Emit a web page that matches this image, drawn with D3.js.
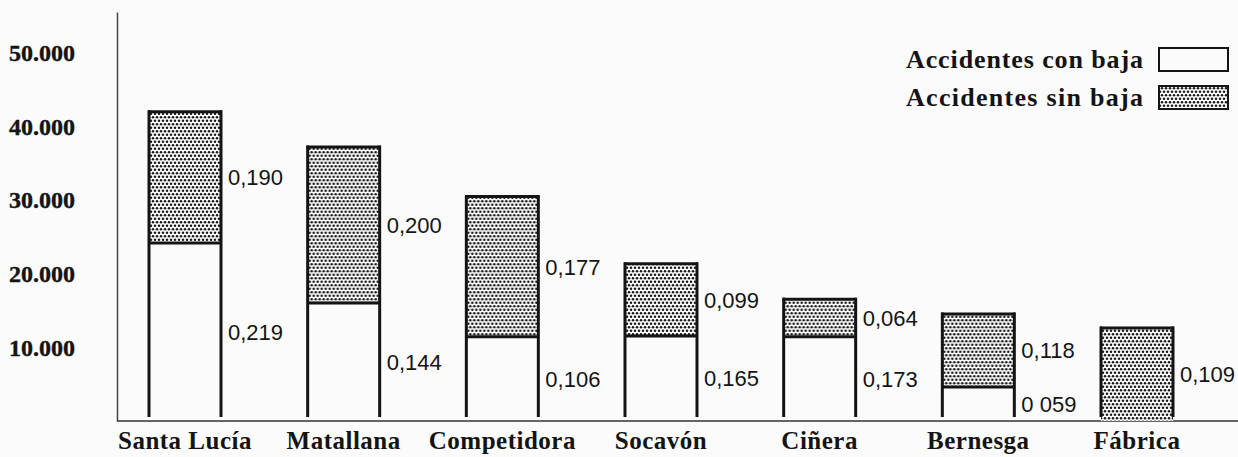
<!DOCTYPE html>
<html>
<head>
<meta charset="utf-8">
<script src="https://cdn.jsdelivr.net/npm/d3@7"></script>
<style>
  html, body { margin: 0; padding: 0; background: #fbfbfb; }
  svg { display: block; }
</style>
</head>
<body>
<svg id="chart"></svg>
<script>
// minas de León - accidentes con / sin baja
const categories = ["Santa Lucía", "Matallana", "Competidora", "Socavón", "Ciñera", "Bernesga", "Fábrica"];
const conBaja = [24100, 16000, 11400, 11500, 11400, 4600, 0];
const sinBaja = [17800, 21100, 19000, 9800, 5100, 9900, 12600];
const conBajaIdx = ["0,219", "0,144", "0,106", "0,165", "0,173", "0 059", ""];
const sinBajaIdx = ["0,190", "0,200", "0,177", "0,099", "0,064", "0,118", "0,109"];
const yTicks = [10000, 20000, 30000, 40000, 50000];
const yTickLabels = ["10.000", "20.000", "30.000", "40.000", "50.000"];
const legendLabels = ["Accidentes con baja", "Accidentes sin baja"];

const width = 1238, height = 457;
const ink = "#141414";
const serif = "'Liberation Serif', 'Times New Roman', serif";
const sans = "'Liberation Sans', Arial, sans-serif";

const svg = d3.select("#chart").attr("width", width).attr("height", height);

// stipple pattern for "sin baja"
const pat = svg.append("defs").append("pattern")
  .attr("id", "stipple")
  .attr("patternUnits", "userSpaceOnUse")
  .attr("width", 8).attr("height", 7);
pat.append("rect").attr("width", 8).attr("height", 7).attr("fill", "#fbfbfb");
[[2, 1.7], [6, 1.7], [0, 5.2], [4, 5.2], [8, 5.2]].forEach(p => {
  pat.append("circle").attr("cx", p[0]).attr("cy", p[1]).attr("r", 1.25).attr("fill", "#1a1a1a");
});

const x = d3.scalePoint().domain(categories).range([185, 1137]);
const y = d3.scaleLinear().domain([0, 55400]).range([421, 12]);
const bw = 72;

const rows = categories.map((c, i) => ({
  name: c,
  con: conBaja[i],
  total: conBaja[i] + sinBaja[i],
  conIdx: conBajaIdx[i],
  sinIdx: sinBajaIdx[i]
}));

// y axis
const yAxis = d3.axisLeft(y)
  .tickValues(yTicks)
  .tickFormat((d, i) => yTickLabels[i])
  .tickSize(0)
  .tickSizeOuter(0)
  .tickPadding(42);

const yg = svg.append("g").attr("transform", "translate(117,0)").call(yAxis);
yg.select(".domain").attr("stroke", "#444").attr("stroke-width", 1.5);
yg.selectAll("text")
  .attr("fill", ink)
  .attr("font-family", serif)
  .attr("font-weight", "bold")
  .attr("font-size", 24)
  .attr("stroke", ink)
  .attr("stroke-width", 0.4)
  .attr("dy", "0.35em");

// baseline
svg.append("line")
  .attr("x1", 117).attr("x2", width)
  .attr("y1", y(0)).attr("y2", y(0))
  .attr("stroke", "#333").attr("stroke-width", 1.6);

// bars
const bars = svg.append("g").selectAll("g").data(rows).join("g")
  .attr("transform", d => `translate(${x(d.name) - bw / 2},0)`);

bars.append("rect")
  .attr("y", d => y(d.total))
  .attr("width", bw)
  .attr("height", d => y(d.con) - y(d.total))
  .attr("fill", "url(#stipple)");

const lineStyle = sel => sel.attr("stroke", ink).attr("stroke-width", 3);

bars.append("line").call(lineStyle)
  .attr("x1", 0).attr("x2", 0)
  .attr("y1", d => y(d.total) - 1.5).attr("y2", y(0) - 4);
bars.append("line").call(lineStyle)
  .attr("x1", bw).attr("x2", bw)
  .attr("y1", d => y(d.total) - 1.5).attr("y2", y(0) - 4);
bars.append("line").call(lineStyle)
  .attr("x1", -1).attr("x2", bw + 1)
  .attr("y1", d => y(d.total)).attr("y2", d => y(d.total));
bars.filter(d => d.con > 0).append("line").call(lineStyle)
  .attr("x1", 0).attr("x2", bw)
  .attr("y1", d => y(d.con)).attr("y2", d => y(d.con));

// index labels
const labelStyle = sel => sel
  .attr("x", bw + 7)
  .attr("dy", "0.36em")
  .attr("fill", ink)
  .attr("font-family", sans)
  .attr("font-size", 22);

bars.append("text").call(labelStyle)
  .attr("y", d => (y(d.total) + y(d.con)) / 2)
  .text(d => d.sinIdx);
bars.filter(d => d.con > 0).append("text").call(labelStyle)
  .attr("y", d => (y(d.con) + y(0)) / 2)
  .text(d => d.conIdx);

// category labels
svg.append("g").selectAll("text").data(categories).join("text")
  .attr("x", d => x(d))
  .attr("y", 449)
  .attr("text-anchor", "middle")
  .attr("fill", ink)
  .attr("font-family", serif)
  .attr("font-weight", "bold")
  .attr("font-size", 25)
  .attr("letter-spacing", 0.5)
  .text(d => d);

// legend
const legend = svg.append("g").selectAll("g").data(legendLabels).join("g")
  .attr("transform", (d, i) => `translate(906,${59 + i * 38})`);

legend.append("text")
  .attr("y", 9)
  .attr("textLength", 237)
  .attr("lengthAdjust", "spacing")
  .attr("fill", ink)
  .attr("font-family", serif)
  .attr("font-weight", "bold")
  .attr("font-size", 26)
  .text(d => d);

legend.append("rect")
  .attr("x", 253).attr("y", -11)
  .attr("width", 69).attr("height", 23)
  .attr("fill", (d, i) => i === 0 ? "#fbfbfb" : "url(#stipple)")
  .attr("stroke", ink)
  .attr("stroke-width", 2);
</script>
</body>
</html>
